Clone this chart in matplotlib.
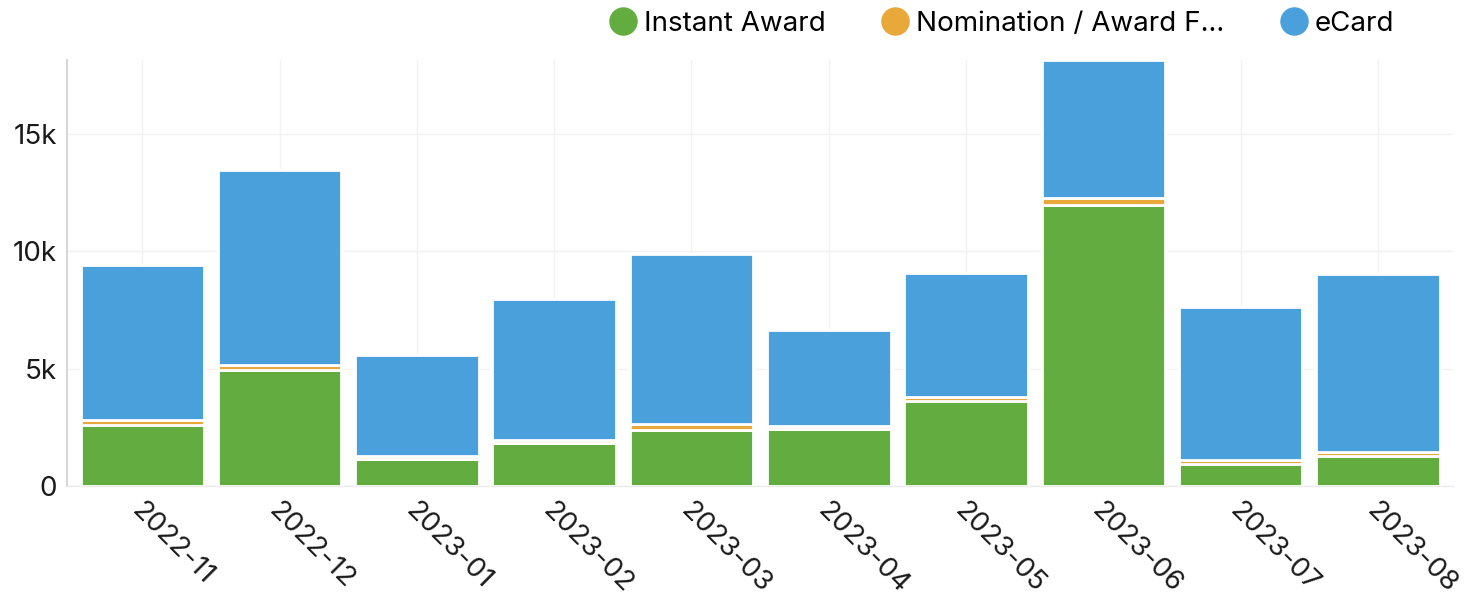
import numpy as np
import matplotlib
matplotlib.use('Agg')
import matplotlib.pyplot as plt
import matplotlib.transforms as mtransforms
from matplotlib.lines import Line2D
from matplotlib.ticker import FuncFormatter

# monthly recognition counts by type
meses = ['2022-11', '2022-12', '2023-01', '2023-02', '2023-03',
         '2023-04', '2023-05', '2023-06', '2023-07', '2023-08']
instant_award = [2620, 4950, 1160, 1840, 2400, 2440, 3640, 11970, 940, 1280]
nomination = [200, 210, 110, 130, 240, 130, 170, 280, 150, 180]
ecard = [6610, 8290, 4330, 5990, 7250, 4080, 5250, 5890, 6540, 7590]

series = ['Instant Award', 'Nomination / Award F...', 'eCard']
cores = ['#63ad40', '#e9a93a', '#49a0da']

plt.rcParams['font.family'] = ['Inter', 'DejaVu Sans']

fig = plt.figure(figsize=(14.68, 6), dpi=100)
ax = fig.add_axes([0.0456, 0.19, 0.9444, 0.71])

x = np.arange(len(meses))
base = np.zeros(len(meses))
for valores, cor in zip([instant_award, nomination, ecard], cores):
    ax.bar(x, valores, bottom=base, width=0.9, color=cor,
           edgecolor='white', linewidth=2, zorder=3)
    base += np.array(valores)

ax.set_xlim(-0.55, len(meses) - 0.45)
ax.set_ylim(0, 18150)
ax.set_yticks([0, 5000, 10000, 15000])
ax.yaxis.set_major_formatter(FuncFormatter(lambda v, p: '0' if v == 0 else f'{int(v / 1000)}k'))

ax.set_xticks(x)
ax.set_xticklabels(meses, rotation=-45, ha='left', va='center', rotation_mode='anchor')

ax.tick_params(axis='both', length=0, labelsize=20, colors='#1a1a1a')
ax.tick_params(axis='x', pad=15)
ax.tick_params(axis='y', pad=7)

# shift x labels slightly to the left
offset = mtransforms.ScaledTranslation(-7 / 100, 0, fig.dpi_scale_trans)
for lbl in ax.get_xticklabels():
    lbl.set_transform(lbl.get_transform() + offset)

ax.grid(True, color='#f2f2f2', linewidth=1, zorder=0)
for lado in ['top', 'right']:
    ax.spines[lado].set_visible(False)
ax.spines['left'].set_color('#d6d6d6')
ax.spines['left'].set_linewidth(1.5)
ax.spines['bottom'].set_color('#ececec')
ax.spines['bottom'].set_linewidth(1)

handles = [Line2D([], [], marker='o', linestyle='', markersize=19.5,
                  markerfacecolor=c, markeredgecolor=c) for c in cores]
fig.legend(handles, series, loc='center right', bbox_to_anchor=(1394 / 1468, 1 - 24 / 600),
           ncol=3, frameon=False, fontsize=20, handlelength=1.0,
           handletextpad=0.25, columnspacing=2.0, borderpad=0, borderaxespad=0)

fig.savefig('out.png', dpi=100, facecolor='white')
